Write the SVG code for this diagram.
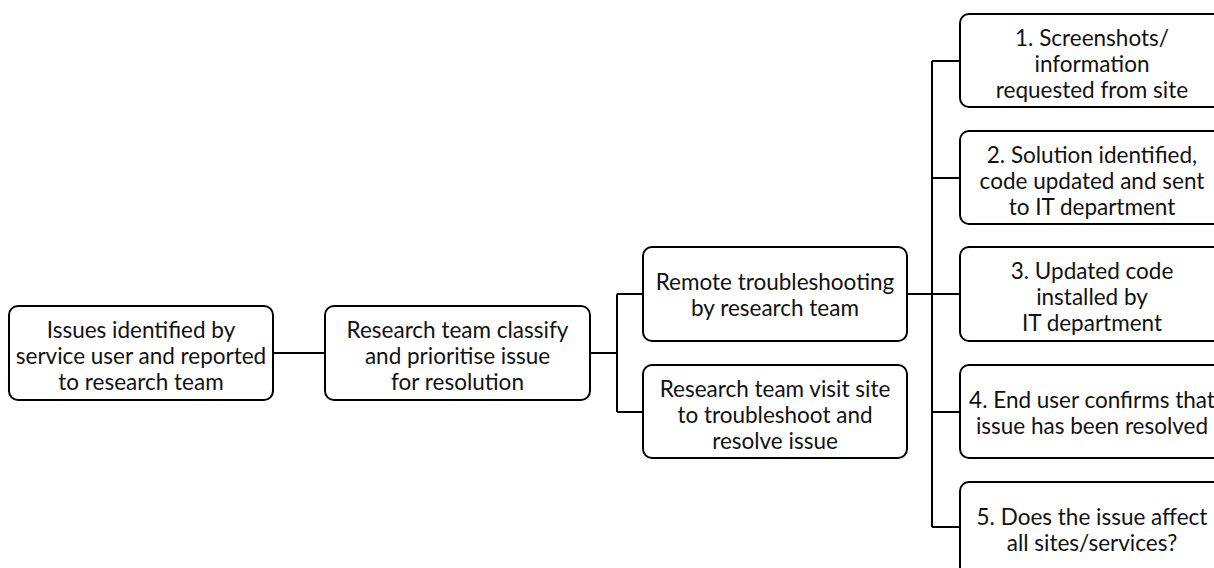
<svg xmlns="http://www.w3.org/2000/svg" width="1214" height="568" viewBox="0 0 1214 568">
<style>
.box{fill:#fff;stroke:#000;stroke-width:2}
.t{font-family:Lato,"Noto Sans",sans-serif;font-size:22.5px;fill:#111;text-anchor:middle}
.c{fill:none;stroke:#000;stroke-width:2}
</style>
<rect width="1214" height="568" fill="#fff"/>
<g id="connectors">
<path class="c" d="M273 353H325"/>
<path class="c" d="M590 353H617M617 294V412M617 294H643M617 412H643"/>
<path class="c" d="M907 294H960M932 61V527M932 61H960M932 178H960M932 412H960M932 527H960"/>
</g>
<g id="n1"><rect class="box" x="9" y="306" width="264" height="94" rx="9"/>
<text class="t" x="141" y="338">Issues identified by</text><text class="t" x="141" y="364">service user and reported</text><text class="t" x="141" y="390">to research team</text></g>
<g id="n2"><rect class="box" x="325" y="306" width="265" height="94" rx="9"/>
<text class="t" x="457.5" y="338">Research team classify</text><text class="t" x="457.5" y="364">and prioritise issue</text><text class="t" x="457.5" y="390">for resolution</text></g>
<g id="n3"><rect class="box" x="643" y="247" width="264" height="94" rx="9"/>
<text class="t" x="775" y="290">Remote troubleshooting</text><text class="t" x="775" y="316">by research team</text></g>
<g id="n4"><rect class="box" x="643" y="365" width="264" height="93" rx="9"/>
<text class="t" x="775" y="397">Research team visit site</text><text class="t" x="775" y="423">to troubleshoot and</text><text class="t" x="775" y="449">resolve issue</text></g>
<g id="s1"><rect class="box" x="960" y="14" width="264" height="93" rx="9"/>
<text class="t" x="1092" y="46">1. Screenshots/</text><text class="t" x="1092" y="72">information</text><text class="t" x="1092" y="98">requested from site</text></g>
<g id="s2"><rect class="box" x="960" y="131" width="264" height="93" rx="9"/>
<text class="t" x="1092" y="163">2. Solution identified,</text><text class="t" x="1092" y="189">code updated and sent</text><text class="t" x="1092" y="215">to IT department</text></g>
<g id="s3"><rect class="box" x="960" y="247" width="264" height="94" rx="9"/>
<text class="t" x="1092" y="279">3. Updated code</text><text class="t" x="1092" y="305">installed by</text><text class="t" x="1092" y="331">IT department</text></g>
<g id="s4"><rect class="box" x="960" y="365" width="264" height="93" rx="9"/>
<text class="t" x="1092" y="408">4. End user confirms that</text><text class="t" x="1092" y="434">issue has been resolved</text></g>
<g id="s5"><rect class="box" x="960" y="482" width="264" height="94" rx="9"/>
<text class="t" x="1092" y="525">5. Does the issue affect</text><text class="t" x="1092" y="551">all sites/services?</text></g>
</svg>
